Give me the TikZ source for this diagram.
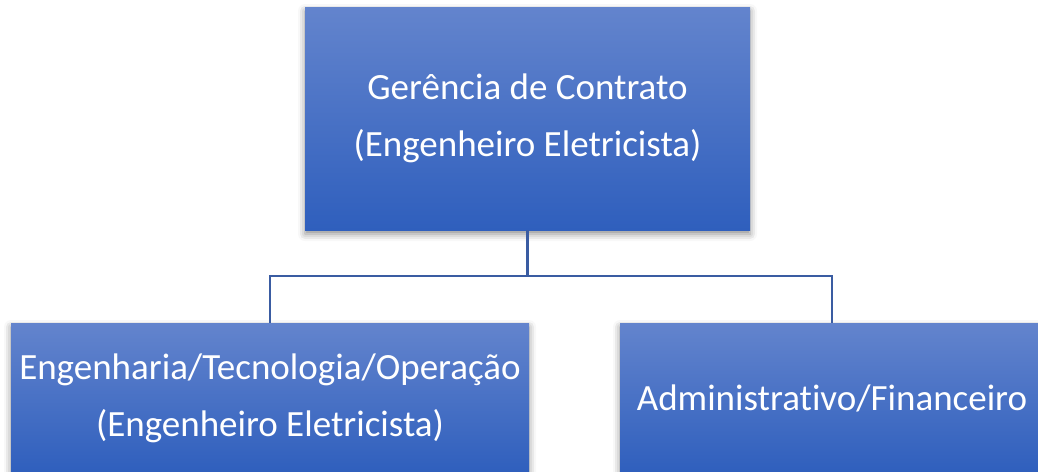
\documentclass[tikz,border=0pt]{standalone}
\usepackage{fontspec}
\setmainfont{Carlito}[Ligatures={NoCommon}]
\usetikzlibrary{shadows.blur}
\definecolor{boxtop}{RGB}{99,132,205}
\definecolor{boxbot}{RGB}{47,95,189}
\definecolor{linec}{RGB}{58,92,162}
\tikzset{
  orgbox/.style={rectangle, top color=boxtop, bottom color=boxbot, draw=none,
    text=white, align=center, inner sep=0pt,
    font=\fontsize{37}{57}\selectfont,
    blur shadow={shadow xshift=0pt, shadow yshift=-4pt, shadow blur radius=7pt, shadow opacity=45}},
  conn/.style={draw=linec, line width=2.4pt}
}
\begin{document}
\begin{tikzpicture}[x=1pt,y=-1pt]
\useasboundingbox (0,0) rectangle (1038,471);
\node[orgbox, minimum width=445pt, minimum height=223pt] (gc) at (527.5,118.5)
  {Gerência de Contrato\\(Engenheiro Eletricista)};
\node[orgbox, minimum width=518pt, minimum height=150pt] (eng) at (270,398)
  {Engenharia/Tecnologia/Operação\\(Engenheiro Eletricista)};
\node[orgbox, minimum width=424pt, minimum height=150pt] (adm) at (832,398)
  {Administrativo/Financeiro};
\draw[conn] (gc.south) -- ++(0,46) -| (eng.north);
\draw[conn] (gc.south) -- ++(0,46) -| (adm.north);
\end{tikzpicture}
\end{document}
